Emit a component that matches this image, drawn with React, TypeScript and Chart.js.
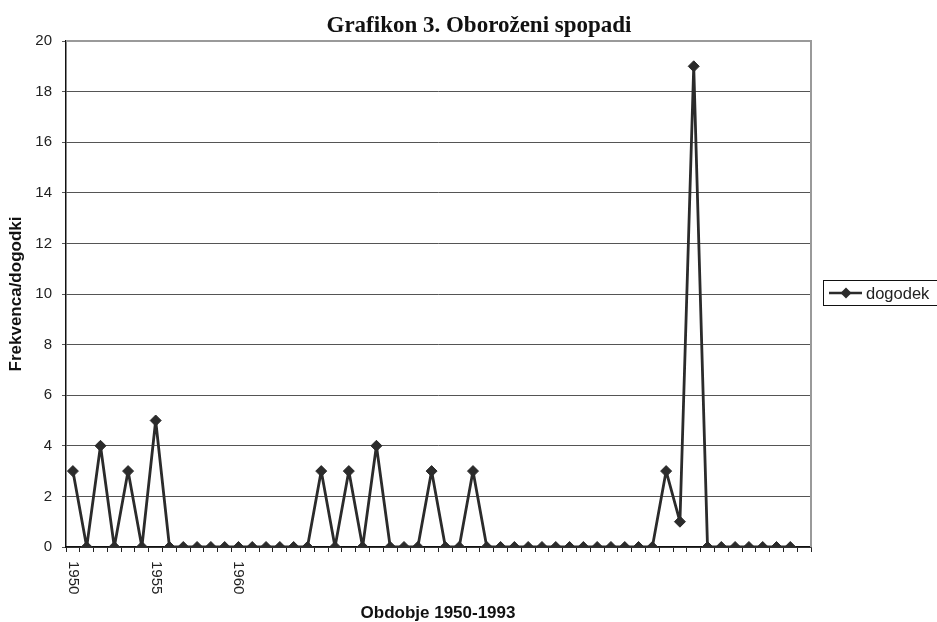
import React, { useEffect, useRef } from "react";
import { Chart, registerables } from "chart.js";

Chart.register(...registerables);

const chartTitle = "Grafikon 3. Oboroženi spopadi";
const xAxisTitle = "Obdobje 1950-1993";
const yAxisTitle = "Frekvenca/dogodki";
const seriesName = "dogodek";

// 54 category slots, only three labelled
const categories: string[] = [
  "1950", "", "", "", "", "", "1955", "", "", "", "", "", "1960", "", "", "", "", "",
  "", "", "", "", "", "", "", "", "", "", "", "", "", "", "", "", "", "",
  "", "", "", "", "", "", "", "", "", "", "", "", "", "", "", "", "", "",
];

const values: (number | null)[] = [
  3, 0, 4, 0, 3, 0, 5, 0, 0, 0, 0, 0, 0, 0, 0, 0, 0, 0,
  3, 0, 3, 0, 4, 0, 0, 0, 3, 0, 0, 3, 0, 0, 0, 0, 0, 0,
  0, 0, 0, 0, 0, 0, 0, 3, 1, 19, 0, 0, 0, 0, 0, 0, 0, null,
];

const yMin = 0;
const yMax = 20;
const yStep = 2;

const SANS = "'Liberation Sans', Arial, sans-serif";
const SERIF = "'Liberation Serif', 'DejaVu Serif', serif";
const INK = "#2b2b2b";

const decorPlugin = {
  id: "decor",
  afterDraw(chart: any) {
    const { ctx, chartArea } = chart;
    const xs = chart.scales.x;
    ctx.save();
    // top & right plot border
    ctx.strokeStyle = "#9a9a9a";
    ctx.lineWidth = 2;
    ctx.beginPath();
    ctx.moveTo(chartArea.left, chartArea.top);
    ctx.lineTo(chartArea.right, chartArea.top);
    ctx.lineTo(chartArea.right, chartArea.bottom);
    ctx.stroke();

    // title
    ctx.fillStyle = "#111";
    ctx.font = `bold 23px ${SERIF}`;
    ctx.textAlign = "center";
    ctx.textBaseline = "alphabetic";
    ctx.fillText(chartTitle, 479, 32);

    // y title
    ctx.font = `bold 17px ${SANS}`;
    ctx.save();
    ctx.translate(16, (chartArea.top + chartArea.bottom) / 2);
    ctx.rotate(-Math.PI / 2);
    ctx.textAlign = "center";
    ctx.textBaseline = "middle";
    ctx.fillText(yAxisTitle, 0, 0);
    ctx.restore();

    // x title
    ctx.textAlign = "center";
    ctx.textBaseline = "middle";
    ctx.fillText(xAxisTitle, 438, 613);

    // x labels rotated clockwise
    ctx.font = `15px ${SANS}`;
    ctx.fillStyle = "#222";
    categories.forEach((lab, i) => {
      if (!lab) return;
      const x = xs.getPixelForValue(i);
      ctx.save();
      ctx.translate(x, chartArea.bottom + 14);
      ctx.rotate(Math.PI / 2);
      ctx.textAlign = "left";
      ctx.textBaseline = "middle";
      ctx.fillText(lab, 0, 0);
      ctx.restore();
    });

    // legend
    const lx = 823.5, ly = 280.5;
    ctx.strokeStyle = "#111";
    ctx.lineWidth = 1;
    ctx.strokeRect(lx, ly, 130, 25);
    const cy = ly + 12.5;
    ctx.strokeStyle = INK;
    ctx.lineWidth = 2.5;
    ctx.beginPath();
    ctx.moveTo(829, cy);
    ctx.lineTo(862, cy);
    ctx.stroke();
    ctx.fillStyle = INK;
    ctx.beginPath();
    ctx.moveTo(846, cy - 5.5);
    ctx.lineTo(851.5, cy);
    ctx.lineTo(846, cy + 5.5);
    ctx.lineTo(840.5, cy);
    ctx.closePath();
    ctx.fill();
    ctx.fillStyle = "#222";
    ctx.font = `16.5px ${SANS}`;
    ctx.textAlign = "left";
    ctx.textBaseline = "middle";
    ctx.fillText(chart.data.datasets[0].label, 866, cy + 1);
    ctx.restore();
  },
};

export default function App() {
  const ref = useRef<HTMLCanvasElement>(null);
  useEffect(() => {
    if (!ref.current) return;
    const chart = new Chart(ref.current, {
      type: "line",
      data: {
        labels: categories,
        datasets: [
          {
            label: seriesName,
            data: values,
            borderColor: INK,
            backgroundColor: INK,
            borderWidth: 2.8,
            borderJoinStyle: "bevel",
            pointStyle: "rectRot",
            pointRadius: 5.5,
            pointBackgroundColor: INK,
            pointBorderColor: INK,
            pointBorderWidth: 1,
            tension: 0,
            spanGaps: false,
          },
        ],
      },
      options: {
        animation: false,
        responsive: true,
        maintainAspectRatio: false,
        layout: { padding: { top: 41, right: 126, bottom: 0, left: 0 } },
        plugins: {
          legend: { display: false },
          title: { display: false },
          tooltip: { enabled: false },
        },
        scales: {
          x: {
            type: "category",
            offset: true,
            grid: {
              offset: true,
              drawOnChartArea: false,
              drawTicks: true,
              tickLength: 5,
              color: "#222",
            },
            border: { color: "#111", width: 1.5 },
            ticks: { display: false, autoSkip: false },
            afterFit: (s: any) => {
              s.height = 75;
            },
          },
          y: {
            min: yMin,
            max: yMax,
            ticks: {
              stepSize: yStep,
              padding: 10,
              color: "#222",
              font: { family: SANS, size: 15 },
            },
            grid: {
              color: "#555",
              lineWidth: 1,
              tickLength: 4,
              drawTicks: true,
            },
            border: { color: "#111", width: 1.5 },
            afterFit: (s: any) => {
              s.width = 66;
            },
          },
        },
      },
      plugins: [decorPlugin],
    });
    return () => chart.destroy();
  }, []);
  return (
    <div style={{ position: "absolute", left: 0, top: 0, width: 937, height: 622 }}>
      <canvas ref={ref} />
    </div>
  );
}
